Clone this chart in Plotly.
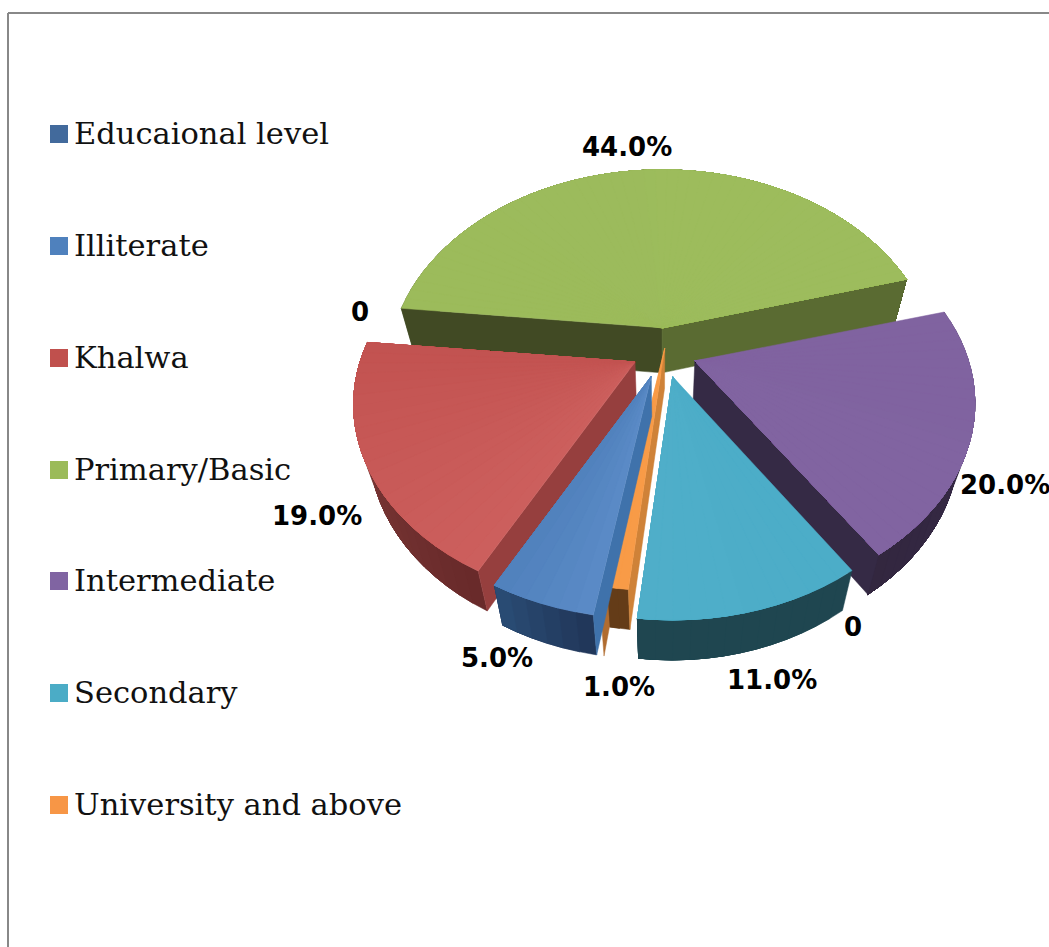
import math
import plotly.graph_objects as go

# Educational level of respondents, percent
categories = ["Educaional level", "Illiterate", "Khalwa", "Primary/Basic",
              "Intermediate", "Secondary", "University and above"]
values = [0, 5, 19, 44, 20, 11, 1]
extra_zero_label = [0]

legend_colors = ["#426a9c", "#4f81bd", "#c0504d", "#9bbb59", "#8064a2", "#4bacc6", "#f79646"]

# Distance each slice is pulled from the pie centre
pull = [0, 0.13, 0.11, 0.13, 0.13, 0.13, -0.02]

# Face colours per slice: top start/end, rim start/end, wall at the slice's first and last edge
style = {
    "Illiterate": dict(top=("#5a8ac6", "#4f80bb"), rim=("#21375a", "#2b4f78"), walls=("#3f72ab", None)),
    "Khalwa": dict(top=("#cc5f5d", "#c25250"), rim=("#692a2a", "#84403e"), walls=("#963f3e", None)),
    "Primary/Basic": dict(top=("#9cbb5b", "#9dbc5d"), rim=("#414a24", "#5a6b32"), walls=("#414a24", "#5a6b32")),
    "Intermediate": dict(top=("#8063a0", "#8164a1"), rim=("#35294a", "#33273f"), walls=(None, "#352a45")),
    "Secondary": dict(top=("#4cadc8", "#4faec9"), rim=("#1f4650", "#1f4650"), walls=(None, None)),
    "University and above": dict(top=("#f89b47", "#f89b47"), rim=("#643c18", "#643c18"), walls=("#cf8238", None)),
}
draw_order = ["Primary/Basic", "Intermediate", "Khalwa", "Secondary", "University and above", "Illiterate"]

# Small per-slice page adjustments: sideways shift, horizontal scale, extrusion depth
shift_x = {"Primary/Basic": 4, "Secondary": 3, "University and above": 3, "Illiterate": 2, "Khalwa": 1}
scale_x = {"Primary/Basic": 0.975, "Secondary": 0.97, "Intermediate": 0.995}
depth = {"Primary/Basic": 45}

# Perspective camera for the tilted disc
CX, CY = 661, 352
RADIUS_X, RADIUS_Y, PERSP = 275, 191.5, 0.212
DEPTH, BASE_SCALE = 40, 0.95
FIRST_ANGLE = -99.6  # first non-empty slice starts here, running clockwise


def project(x, y):
    w = 1 + PERSP * y
    return CX + RADIUS_X * x / w, CY - RADIUS_Y * y / w


def lower(pt, name=None):
    return CX + (pt[0] - CX) * BASE_SCALE, pt[1] + depth.get(name, DEPTH)


def mix(a, b, t):
    ca = [int(a[i:i + 2], 16) for i in (1, 3, 5)]
    cb = [int(b[i:i + 2], 16) for i in (1, 3, 5)]
    return "#%02x%02x%02x" % tuple(round(p + (q - p) * t) for p, q in zip(ca, cb))


fig = go.Figure()


def polygon(points, color):
    xs = [p[0] for p in points] + [points[0][0]]
    ys = [p[1] for p in points] + [points[0][1]]
    fig.add_trace(go.Scatter(x=xs, y=ys, mode="lines", fill="toself", fillcolor=color,
                             line=dict(color=color, width=0.5), hoverinfo="skip", showlegend=False))


# Angular extent of each slice, clockwise from the start angle
spans = {}
angle = FIRST_ANGLE
for name, val, off in zip(categories, values, pull):
    sweep = val * 3.6
    spans[name] = (angle, angle - sweep, off)
    angle -= sweep


def apex_point(name, slice_pull=None):
    a0, a1, off = spans[name]
    off = off if slice_pull is None else slice_pull
    mid = math.radians((a0 + a1) / 2)
    x, y = project(off * math.cos(mid), off * math.sin(mid))
    return x + shift_x.get(name, 0), y


def rim_point(name, deg, slice_pull=None):
    # the pull shifts a slice rigidly on the page, so its outline keeps the disc's shape
    ax, ay = apex_point(name, slice_pull)
    r = math.radians(deg)
    px, py = project(math.cos(r), math.sin(r))
    return (px - CX) * scale_x.get(name, 1) + ax, py + ay - CY


for name in draw_order:
    a0, a1, _ = spans[name]
    st = style[name]
    apex = apex_point(name)
    steps = max(2, int((a0 - a1) / 3))
    degs = [a0 + (a1 - a0) * i / steps for i in range(steps + 1)]
    arc = [rim_point(name, d) for d in degs]

    # outer rim, each band overlapping the rest so no seams show
    for i in range(steps):
        rest = arc[i:]
        polygon(rest + [lower(p, name) for p in reversed(rest)],
                mix(st["rim"][0], st["rim"][1], i / steps))

    # cut faces
    for outer, wall in ((arc[0], st["walls"][0]), (arc[-1], st["walls"][1])):
        if wall:
            polygon([apex, outer, lower(outer, name), lower(apex, name)], wall)

    # a sliver of the side shows at the front of the thin slice
    if name == "University and above":
        outer = arc[-1]
        pulled = rim_point(name, a1, slice_pull=0.13)
        polygon([outer, pulled, lower(pulled), lower(outer)], "#b06c30")

    # top face
    for i in range(steps):
        polygon([apex] + arc[i:], mix(st["top"][0], st["top"][1], i / steps))

# Legend column
legend_x = [59] * len(categories)
legend_y = [134, 246, 358, 470, 581, 693, 805]
fig.add_trace(go.Scatter(x=legend_x, y=legend_y, mode="markers",
                         marker=dict(symbol="square", size=18, color=legend_colors, line=dict(width=0)),
                         hoverinfo="skip", showlegend=False))
for name, y in zip(categories, legend_y):
    fig.add_annotation(x=72, y=y - 1, text=name, showarrow=False, xanchor="left", yanchor="middle",
                       font=dict(family="DejaVu Serif", size=30.5, color="#111111"))

# Value labels
label_pos = {
    "Educaional level": (360, 312),
    "Illiterate": (497, 658),
    "Khalwa": (317, 516),
    "Primary/Basic": (627, 147),
    "Intermediate": (1005, 485),
    "Secondary": (772, 680),
    "University and above": (619, 687),
}
label_font = dict(family="DejaVu Sans", size=26, color="#000000")
for name, val in zip(categories, values):
    x, y = label_pos[name]
    text = f"<b>{val}</b>" if val == 0 else f"<b>{val:.1f}%</b>"
    fig.add_annotation(x=x, y=y, text=text, showarrow=False, font=label_font)
fig.add_annotation(x=853, y=627, text=f"<b>{extra_zero_label[0]}</b>", showarrow=False, font=label_font)

# Chart frame: only its top and left edges fall inside the page
fig.add_shape(type="line", x0=8, x1=1049, y0=13, y1=13, line=dict(color="#888888", width=2))
fig.add_shape(type="line", x0=8, x1=8, y0=13, y1=947, line=dict(color="#888888", width=2))

fig.update_layout(
    width=1049, height=947, autosize=False,
    margin=dict(l=0, r=0, t=0, b=0),
    paper_bgcolor="white", plot_bgcolor="white",
    xaxis=dict(range=[0, 1049], visible=False, fixedrange=True),
    yaxis=dict(range=[947, 0], visible=False, fixedrange=True),
    showlegend=False,
)
fig.write_html("out.html", config=dict(displayModeBar=False))
